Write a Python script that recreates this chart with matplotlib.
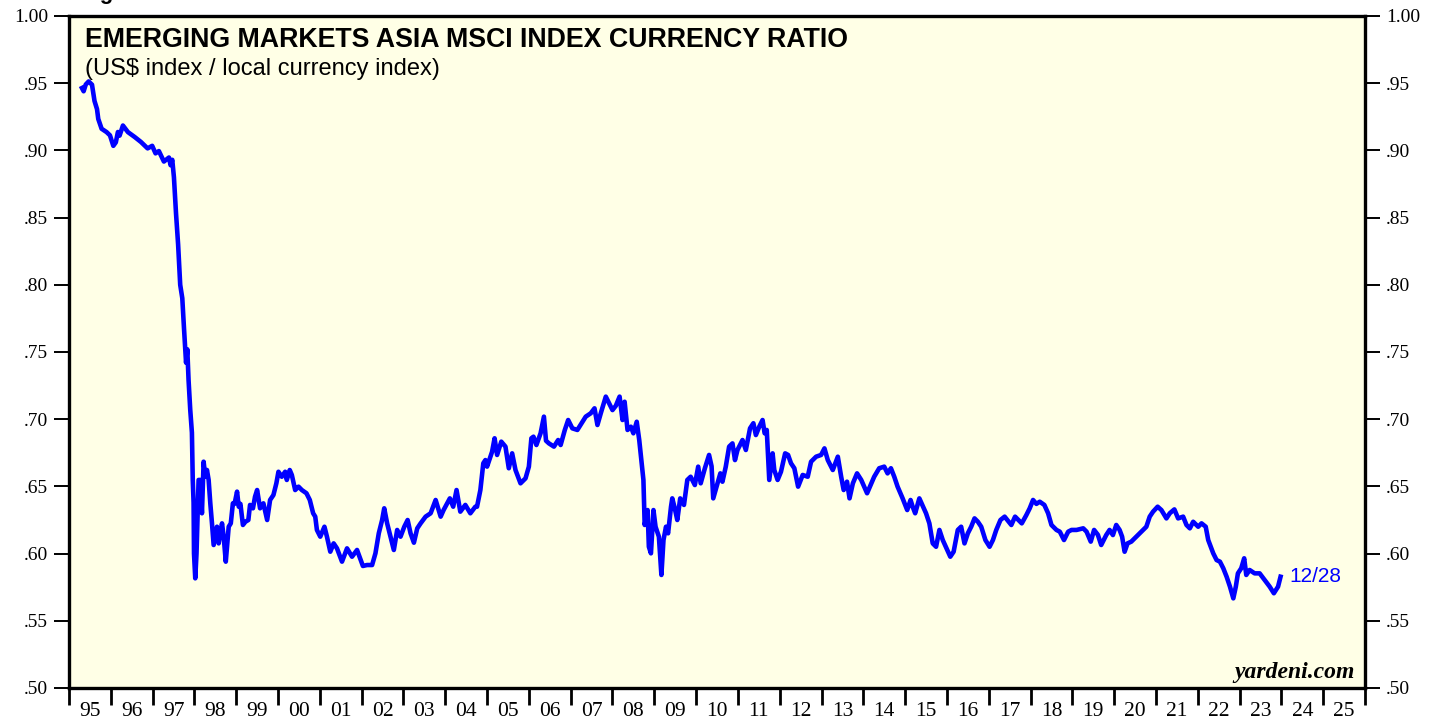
import matplotlib
matplotlib.use("Agg")
import matplotlib.pyplot as plt
from matplotlib.ticker import FixedLocator, FuncFormatter, NullFormatter

# ---- data (fractional year, ratio) ----
years = [
    1995.31, 1995.35, 1995.40, 1995.47, 1995.55, 1995.61, 1995.67, 1995.70, 1995.78, 1995.90,
    1995.98, 1996.06, 1996.12, 1996.17, 1996.21, 1996.29, 1996.41, 1996.57, 1996.72, 1996.88,
    1996.99, 1997.07, 1997.15, 1997.27, 1997.39, 1997.43, 1997.47, 1997.51, 1997.56, 1997.61,
    1997.66, 1997.71, 1997.75, 1997.80, 1997.83, 1997.86, 1997.90, 1997.94, 1997.96, 1997.98,
    1997.99, 1998.02, 1998.05, 1998.10, 1998.14, 1998.18, 1998.22, 1998.26, 1998.30, 1998.34,
    1998.38, 1998.42, 1998.46, 1998.54, 1998.58, 1998.66, 1998.70, 1998.75, 1998.82, 1998.87,
    1998.92, 1998.96, 1999.02, 1999.06, 1999.10, 1999.16, 1999.22, 1999.29, 1999.33, 1999.40,
    1999.45, 1999.50, 1999.57, 1999.65, 1999.74, 1999.81, 1999.89, 1999.96, 2000.01, 2000.09,
    2000.17, 2000.21, 2000.28, 2000.33, 2000.41, 2000.49, 2000.57, 2000.68, 2000.76, 2000.84,
    2000.89, 2000.93, 2001.01, 2001.11, 2001.17, 2001.25, 2001.33, 2001.41, 2001.53, 2001.65,
    2001.77, 2001.89, 2002.03, 2002.13, 2002.25, 2002.33, 2002.41, 2002.49, 2002.54, 2002.61,
    2002.77, 2002.85, 2002.93, 2003.02, 2003.10, 2003.17, 2003.25, 2003.33, 2003.41, 2003.53,
    2003.65, 2003.77, 2003.89, 2003.96, 2004.11, 2004.19, 2004.27, 2004.36, 2004.48, 2004.60,
    2004.72, 2004.76, 2004.84, 2004.91, 2004.96, 2005.00, 2005.12, 2005.18, 2005.24, 2005.34,
    2005.44, 2005.52, 2005.60, 2005.68, 2005.80, 2005.92, 2006.00, 2006.06, 2006.11, 2006.18,
    2006.28, 2006.36, 2006.41, 2006.48, 2006.60, 2006.70, 2006.76, 2006.86, 2006.94, 2007.04,
    2007.16, 2007.26, 2007.36, 2007.48, 2007.57, 2007.64, 2007.72, 2007.84, 2007.92, 2008.00,
    2008.08, 2008.17, 2008.24, 2008.29, 2008.36, 2008.44, 2008.50, 2008.58, 2008.64, 2008.69,
    2008.74, 2008.77, 2008.84, 2008.87, 2008.92, 2008.98, 2009.03, 2009.11, 2009.17, 2009.22,
    2009.28, 2009.33, 2009.40, 2009.43, 2009.49, 2009.55, 2009.62, 2009.71, 2009.79, 2009.87,
    2009.97, 2010.05, 2010.11, 2010.21, 2010.31, 2010.37, 2010.41, 2010.50, 2010.58, 2010.63,
    2010.71, 2010.79, 2010.87, 2010.93, 2010.99, 2011.11, 2011.19, 2011.29, 2011.37, 2011.43,
    2011.51, 2011.59, 2011.64, 2011.69, 2011.75, 2011.83, 2011.87, 2011.95, 2012.03, 2012.13,
    2012.20, 2012.27, 2012.35, 2012.44, 2012.55, 2012.67, 2012.75, 2012.87, 2012.99, 2013.07,
    2013.15, 2013.27, 2013.39, 2013.47, 2013.53, 2013.61, 2013.67, 2013.75, 2013.85, 2013.95,
    2014.09, 2014.26, 2014.38, 2014.50, 2014.58, 2014.66, 2014.74, 2014.82, 2014.94, 2015.05,
    2015.13, 2015.18, 2015.24, 2015.34, 2015.50, 2015.58, 2015.66, 2015.74, 2015.82, 2015.90,
    2016.08, 2016.16, 2016.26, 2016.34, 2016.42, 2016.50, 2016.58, 2016.66, 2016.74, 2016.82,
    2016.92, 2017.02, 2017.10, 2017.18, 2017.28, 2017.38, 2017.54, 2017.63, 2017.79, 2017.90,
    2017.98, 2018.06, 2018.14, 2018.22, 2018.33, 2018.42, 2018.50, 2018.62, 2018.70, 2018.80,
    2018.90, 2018.98, 2019.10, 2019.26, 2019.34, 2019.44, 2019.52, 2019.61, 2019.69, 2019.81,
    2019.89, 2019.97, 2020.05, 2020.13, 2020.19, 2020.25, 2020.32, 2020.41, 2020.53, 2020.65,
    2020.77, 2020.85, 2020.93, 2021.04, 2021.13, 2021.25, 2021.33, 2021.44, 2021.53, 2021.65,
    2021.73, 2021.81, 2021.89, 2022.01, 2022.09, 2022.19, 2022.25, 2022.37, 2022.45, 2022.53,
    2022.61, 2022.69, 2022.77, 2022.85, 2022.91, 2022.96, 2023.04, 2023.11, 2023.16, 2023.24,
    2023.36, 2023.48, 2023.60, 2023.72, 2023.82, 2023.92, 2023.98,
]
ratio = [
    .9464, .9440, .9490, .9513, .9489, .9368, .9307, .9234, .9161, .9136,
    .9112, .9034, .9060, .9137, .9110, .9185, .9136, .9100, .9063, .9015,
    .9034, .8978, .8995, .8917, .8947, .8890, .8930, .8800, .8530, .8300,
    .8000, .7900, .7680, .7420, .7520, .7290, .7070, .6900, .6550, .6380,
    .6000, .5816, .6000, .6548, .6548, .6300, .6684, .6572, .6622, .6548,
    .6374, .6225, .6064, .6200, .6076, .6225, .6126, .5940, .6200, .6225,
    .6374, .6370, .6461, .6349, .6370, .6213, .6237, .6250, .6362, .6337,
    .6424, .6473, .6337, .6374, .6250, .6399, .6436, .6523, .6609, .6572,
    .6609, .6548, .6622, .6585, .6473, .6498, .6473, .6449, .6399, .6300,
    .6275, .6176, .6126, .6200, .6126, .6014, .6076, .6039, .5940, .6039,
    .5977, .6027, .5908, .5915, .5915, .6002, .6151, .6250, .6337, .6225,
    .6027, .6176, .6126, .6200, .6250, .6151, .6081, .6188, .6225, .6275,
    .6300, .6399, .6275, .6324, .6411, .6349, .6473, .6312, .6362, .6300,
    .6349, .6349, .6473, .6672, .6696, .6647, .6758, .6858, .6734, .6833,
    .6796, .6635, .6746, .6622, .6523, .6560, .6647, .6858, .6870, .6808,
    .6895, .7019, .6840, .6820, .6796, .6845, .6808, .6920, .6994, .6932,
    .6920, .6970, .7019, .7044, .7081, .6957, .7044, .7168, .7118, .7068,
    .7100, .7168, .6994, .7130, .6920, .6944, .6895, .6981, .6845, .6696,
    .6548, .6213, .6324, .6051, .6002, .6324, .6200, .6126, .5841, .6101,
    .6200, .6151, .6349, .6411, .6337, .6250, .6411, .6362, .6548, .6572,
    .6510, .6647, .6523, .6635, .6734, .6650, .6411, .6510, .6597, .6535,
    .6647, .6796, .6820, .6696, .6771, .6845, .6771, .6932, .6970, .6882,
    .6944, .6994, .6895, .6920, .6548, .6746, .6622, .6548, .6609, .6746,
    .6734, .6672, .6635, .6498, .6585, .6572, .6684, .6721, .6734, .6783,
    .6696, .6622, .6721, .6572, .6473, .6535, .6411, .6523, .6597, .6548,
    .6449, .6572, .6635, .6647, .6597, .6635, .6572, .6498, .6411, .6324,
    .6399, .6349, .6300, .6411, .6300, .6225, .6076, .6051, .6176, .6101,
    .5977, .6014, .6176, .6200, .6076, .6151, .6200, .6262, .6237, .6200,
    .6101, .6051, .6101, .6176, .6250, .6275, .6213, .6275, .6225, .6287,
    .6337, .6399, .6370, .6386, .6362, .6300, .6213, .6176, .6163, .6101,
    .6163, .6176, .6176, .6188, .6163, .6089, .6176, .6140, .6064, .6138,
    .6176, .6138, .6213, .6176, .6126, .6014, .6076, .6089, .6126, .6163,
    .6200, .6275, .6312, .6349, .6324, .6262, .6300, .6329, .6262, .6275,
    .6213, .6188, .6237, .6200, .6225, .6200, .6101, .6002, .5952, .5940,
    .5891, .5828, .5754, .5667, .5754, .5853, .5891, .5965, .5841, .5878,
    .5853, .5853, .5804, .5754, .5705, .5754, .5828,
]

year_ticks = list(range(1995, 2027))
year_labels = ["95", "96", "97", "98", "99", "00", "01", "02", "03", "04", "05",
               "06", "07", "08", "09", "10", "11", "12", "13", "14", "15", "16",
               "17", "18", "19", "20", "21", "22", "23", "24", "25"]
y_ticks = [0.50, 0.55, 0.60, 0.65, 0.70, 0.75, 0.80, 0.85, 0.90, 0.95, 1.00]

title = "EMERGING MARKETS ASIA MSCI INDEX CURRENCY RATIO"
subtitle = "(US$ index / local currency index)"
last_label = "12/28"

W, H = 1442, 719
fig = plt.figure(figsize=(W / 100, H / 100), dpi=100)
fig.patch.set_facecolor("white")
ax = fig.add_axes([69 / W, 1 - 688 / H, (1365 - 69) / W, (688 - 16) / H])
ax.set_facecolor("#FFFFE6")

ax.plot(years, ratio, color="#0000FF", lw=3.3, solid_joinstyle="round")

ax.set_xlim(1995, 2026)
ax.set_ylim(0.50, 1.00)

for s in ax.spines.values():
    s.set_linewidth(2.4)
    s.set_color("black")

# x axis: ticks at year boundaries, labels centred in each year
ax.xaxis.set_major_locator(FixedLocator(year_ticks))
ax.xaxis.set_major_formatter(NullFormatter())
ax.xaxis.set_minor_locator(FixedLocator([y + 0.5 for y in year_ticks[:-1]]))
ax.xaxis.set_minor_formatter(FuncFormatter(
    lambda v, p: year_labels[int(v - 1995)] if 0 <= int(v - 1995) < len(year_labels) else ""))
ax.tick_params(axis="x", which="major", direction="out", length=12, width=2, bottom=True, top=False)
ax.tick_params(axis="x", which="minor", length=0, pad=10, labelsize=15.5)

# y axis both sides
ax.yaxis.set_major_locator(FixedLocator(y_ticks))
ax.yaxis.set_major_formatter(FuncFormatter(
    lambda v, p: "1.00" if abs(v - 1) < 1e-9 else ("%.2f" % v)[1:]))
ax.tick_params(axis="y", which="major", direction="out", length=11, width=1.4,
               left=True, right=True, labelleft=True, labelright=True, labelsize=14, pad=4)

for lab in ax.get_xticklabels(minor=True) + ax.get_yticklabels():
    lab.set_fontfamily("Liberation Serif")

ax.text(0.012, 0.983, title, transform=ax.transAxes, ha="left", va="top",
        fontsize=19.3, fontweight="bold", family="Liberation Sans")
ax.text(0.012, 0.937, subtitle, transform=ax.transAxes, ha="left", va="top",
        fontsize=17, family="Liberation Sans")
ax.text(years[-1] + 0.2, ratio[-1], last_label, ha="left", va="center",
        fontsize=15, color="#0000FF", family="Liberation Sans")
ax.text(0.992, 0.008, "yardeni.com", transform=ax.transAxes, ha="right", va="bottom",
        fontsize=17, fontweight="bold", style="italic", family="Liberation Serif")

fig.text(80 / W, 1 + 1 / H, "Figure 1.", ha="left", va="baseline",
         fontsize=16, fontweight="bold", family="Liberation Sans")

fig.savefig("out.png", dpi=100, facecolor="white")
